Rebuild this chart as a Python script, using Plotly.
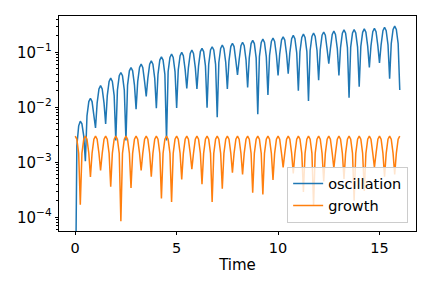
import plotly.graph_objects as go

# Shared time samples (per half period: dip/peak, shoulders, extremum, shoulders)
time = [
    0, 0.08, 0.17, 0.25, 0.33, 0.42, 0.5, 0.58, 0.67, 0.75, 0.83, 0.92,
    1, 1.08, 1.17, 1.25, 1.33, 1.42, 1.5, 1.58, 1.67, 1.75, 1.83, 1.92,
    2, 2.08, 2.17, 2.25, 2.33, 2.42, 2.5, 2.58, 2.67, 2.75, 2.83, 2.92,
    3, 3.08, 3.17, 3.25, 3.33, 3.42, 3.5, 3.58, 3.67, 3.75, 3.83, 3.92,
    4, 4.08, 4.17, 4.25, 4.33, 4.42, 4.5, 4.58, 4.67, 4.75, 4.83, 4.92,
    5, 5.08, 5.17, 5.25, 5.33, 5.42, 5.5, 5.58, 5.67, 5.75, 5.83, 5.92,
    6, 6.08, 6.17, 6.25, 6.33, 6.42, 6.5, 6.58, 6.67, 6.75, 6.83, 6.92,
    7, 7.08, 7.17, 7.25, 7.33, 7.42, 7.5, 7.58, 7.67, 7.75, 7.83, 7.92,
    8, 8.08, 8.17, 8.25, 8.33, 8.42, 8.5, 8.58, 8.67, 8.75, 8.83, 8.92,
    9, 9.08, 9.17, 9.25, 9.33, 9.42, 9.5, 9.58, 9.67, 9.75, 9.83, 9.92,
    10, 10.08, 10.17, 10.25, 10.33, 10.42, 10.5, 10.58, 10.67, 10.75, 10.83, 10.92,
    11, 11.08, 11.17, 11.25, 11.33, 11.42, 11.5, 11.58, 11.67, 11.75, 11.83, 11.92,
    12, 12.08, 12.17, 12.25, 12.33, 12.42, 12.5, 12.58, 12.67, 12.75, 12.83, 12.92,
    13, 13.08, 13.17, 13.25, 13.33, 13.42, 13.5, 13.58, 13.67, 13.75, 13.83, 13.92,
    14, 14.08, 14.17, 14.25, 14.33, 14.42, 14.5, 14.58, 14.67, 14.75, 14.83, 14.92,
    15, 15.08, 15.17, 15.25, 15.33, 15.42, 15.5, 15.58, 15.67, 15.75, 15.83, 15.92,
    16,
]

# "oscillation" series (blue); first value ~0 (off-axis)
oscillation = [
    1e-6, 2.0e-3, 4.6e-3, 5.6e-3, 5.0e-3, 3.0e-3,
    1.05e-3, 7.0e-3, 0.0127, 0.0146, 0.0127, 7.0e-3,
    4.2e-3, 0.0119, 0.0215, 0.0247, 0.0215, 0.0119,
    5.0e-3, 0.0163, 0.0296, 0.034, 0.0296, 0.0163,
    2.5e-3, 0.0206, 0.0374, 0.043, 0.0374, 0.0206,
    2.5e-3, 0.0254, 0.0461, 0.053, 0.0461, 0.0254,
    9.2e-3, 0.0293, 0.0531, 0.061, 0.0531, 0.0293,
    0.0158, 0.0336, 0.0609, 0.070, 0.0609, 0.0336,
    9.6e-3, 0.0398, 0.0722, 0.083, 0.0722, 0.0398,
    2.5e-3, 0.0446, 0.0809, 0.093, 0.0809, 0.0446,
    9.7e-3, 0.048, 0.087, 0.100, 0.087, 0.048,
    0.022, 0.0528, 0.0957, 0.110, 0.0957, 0.0528,
    0.0215, 0.0566, 0.103, 0.118, 0.103, 0.0566,
    9.8e-3, 0.0605, 0.110, 0.126, 0.110, 0.0605,
    6.6e-3, 0.0653, 0.118, 0.136, 0.118, 0.0653,
    0.0215, 0.070, 0.127, 0.146, 0.127, 0.070,
    0.0387, 0.073, 0.132, 0.152, 0.132, 0.073,
    0.023, 0.0792, 0.144, 0.165, 0.144, 0.0792,
    7.5e-3, 0.0835, 0.151, 0.174, 0.151, 0.0835,
    0.0168, 0.0874, 0.158, 0.182, 0.158, 0.0874,
    0.038, 0.0922, 0.167, 0.192, 0.167, 0.0922,
    0.041, 0.0974, 0.177, 0.203, 0.177, 0.0974,
    0.020, 0.103, 0.186, 0.214, 0.186, 0.103,
    0.013, 0.108, 0.195, 0.224, 0.195, 0.108,
    0.031, 0.112, 0.204, 0.234, 0.204, 0.112,
    0.062, 0.117, 0.211, 0.243, 0.211, 0.117,
    0.038, 0.122, 0.222, 0.255, 0.222, 0.122,
    0.015, 0.124, 0.224, 0.258, 0.224, 0.124,
    0.0237, 0.128, 0.231, 0.266, 0.231, 0.128,
    0.053, 0.131, 0.237, 0.272, 0.237, 0.131,
    0.064, 0.137, 0.248, 0.285, 0.248, 0.137,
    0.033, 0.144, 0.261, 0.300, 0.261, 0.144,
    0.0206,
]

# "growth" series (orange)
growth = [
    3.0e-3, 2.63e-3, 1.45e-3, 1.7e-4, 1.45e-3, 2.63e-3,
    3.0e-3, 2.63e-3, 1.45e-3, 5.4e-4, 1.45e-3, 2.63e-3,
    3.0e-3, 2.63e-3, 1.45e-3, 7.1e-4, 1.45e-3, 2.63e-3,
    3.0e-3, 2.63e-3, 1.45e-3, 3.6e-4, 1.45e-3, 2.63e-3,
    3.0e-3, 2.63e-3, 1.45e-3, 8.5e-5, 1.45e-3, 2.63e-3,
    3.0e-3, 2.63e-3, 1.45e-3, 3.4e-4, 1.45e-3, 2.63e-3,
    3.0e-3, 2.63e-3, 1.45e-3, 7.1e-4, 1.45e-3, 2.63e-3,
    3.0e-3, 2.63e-3, 1.45e-3, 5.5e-4, 1.45e-3, 2.63e-3,
    3.0e-3, 2.63e-3, 1.45e-3, 2.2e-4, 1.45e-3, 2.63e-3,
    3.0e-3, 2.63e-3, 1.45e-3, 1.9e-4, 1.45e-3, 2.63e-3,
    3.0e-3, 2.63e-3, 1.45e-3, 4.9e-4, 1.45e-3, 2.63e-3,
    3.0e-3, 2.63e-3, 1.45e-3, 7.5e-4, 1.45e-3, 2.63e-3,
    3.0e-3, 2.63e-3, 1.45e-3, 4.0e-4, 1.45e-3, 2.63e-3,
    3.0e-3, 2.63e-3, 1.45e-3, 1.9e-4, 1.45e-3, 2.63e-3,
    3.0e-3, 2.63e-3, 1.45e-3, 3.3e-4, 1.45e-3, 2.63e-3,
    3.0e-3, 2.63e-3, 1.45e-3, 6.5e-4, 1.45e-3, 2.63e-3,
    3.0e-3, 2.63e-3, 1.45e-3, 6.0e-4, 1.45e-3, 2.63e-3,
    3.0e-3, 2.63e-3, 1.45e-3, 2.8e-4, 1.45e-3, 2.63e-3,
    3.0e-3, 2.63e-3, 1.45e-3, 2.6e-4, 1.45e-3, 2.63e-3,
    3.0e-3, 2.63e-3, 1.45e-3, 4.8e-4, 1.45e-3, 2.63e-3,
    3.0e-3, 2.63e-3, 1.45e-3, 8.1e-4, 1.45e-3, 2.63e-3,
    3.0e-3, 2.63e-3, 1.45e-3, 6.3e-4, 1.45e-3, 2.63e-3,
    3.0e-3, 2.63e-3, 1.45e-3, 2.9e-4, 1.45e-3, 2.63e-3,
    3.0e-3, 2.63e-3, 1.45e-3, 1.6e-4, 1.45e-3, 2.63e-3,
    3.0e-3, 2.63e-3, 1.45e-3, 4.5e-4, 1.45e-3, 2.63e-3,
    3.0e-3, 2.63e-3, 1.45e-3, 7.8e-4, 1.45e-3, 2.63e-3,
    3.0e-3, 2.63e-3, 1.45e-3, 5.0e-4, 1.45e-3, 2.63e-3,
    3.0e-3, 2.63e-3, 1.45e-3, 2.0e-4, 1.45e-3, 2.63e-3,
    3.0e-3, 2.63e-3, 1.45e-3, 3.0e-4, 1.45e-3, 2.63e-3,
    3.0e-3, 2.63e-3, 1.45e-3, 8.1e-4, 1.45e-3, 2.63e-3,
    3.0e-3, 2.63e-3, 1.45e-3, 5.5e-4, 1.45e-3, 2.63e-3,
    3.0e-3, 2.63e-3, 1.45e-3, 6.0e-4, 1.45e-3, 2.63e-3,
    3.0e-3,
]

x_ticks = [0, 5, 10, 15]
y_ticks = [1e-4, 1e-3, 1e-2, 1e-1]
y_tick_labels = ["10<sup>−4</sup>", "10<sup>−3</sup>", "10<sup>−2</sup>", "10<sup>−1</sup>"]

FONT = "DejaVu Sans"

fig = go.Figure()
fig.add_trace(go.Scatter(x=time, y=oscillation, mode="lines", name="oscillation",
                         line=dict(color="#1f77b4", width=1.5)))
fig.add_trace(go.Scatter(x=time, y=growth, mode="lines", name="growth",
                         line=dict(color="#ff7f0e", width=1.5)))

minor_vals = [m * 10.0 ** e for e in range(-5, 0) for m in range(2, 10)]

fig.update_layout(
    width=432, height=288,
    margin=dict(l=59, r=16, t=16, b=57, autoexpand=False),
    paper_bgcolor="white", plot_bgcolor="white",
    font=dict(family=FONT, size=14, color="black"),
    showlegend=True,
    legend=dict(
        x=0.978, xanchor="right", y=0.039, yanchor="bottom",
        bgcolor="rgba(255,255,255,0.8)", bordercolor="#cccccc", borderwidth=1,
        font=dict(family=FONT, size=14.5, color="black"),
        tracegroupgap=0,
    ),
    xaxis=dict(
        range=[-0.8, 16.8], tickmode="array", tickvals=x_ticks,
        ticks="outside", ticklen=3.5, tickwidth=0.8, tickcolor="black",
        showline=True, linecolor="black", linewidth=0.8, mirror=True,
        showgrid=False, zeroline=False, automargin=False,
        title=dict(text="Time", font=dict(family=FONT, size=15), standoff=4),
        tickfont=dict(family=FONT, size=14.5),
    ),
    yaxis=dict(
        type="log", range=[-4.249, -0.34],
        tickmode="array", tickvals=y_ticks, ticktext=y_tick_labels,
        ticks="outside", ticklen=3.5, tickwidth=0.8, tickcolor="black",
        minor=dict(tickmode="array", tickvals=minor_vals, ticks="outside",
                   ticklen=2, tickwidth=0.6, tickcolor="black", showgrid=False),
        showline=True, linecolor="black", linewidth=0.8, mirror=True,
        showgrid=False, zeroline=False, automargin=False,
        tickfont=dict(family=FONT, size=15),
    ),
)

fig.write_html("out.html", config={"displayModeBar": False},
               post_script="document.body.style.margin='0px';")
